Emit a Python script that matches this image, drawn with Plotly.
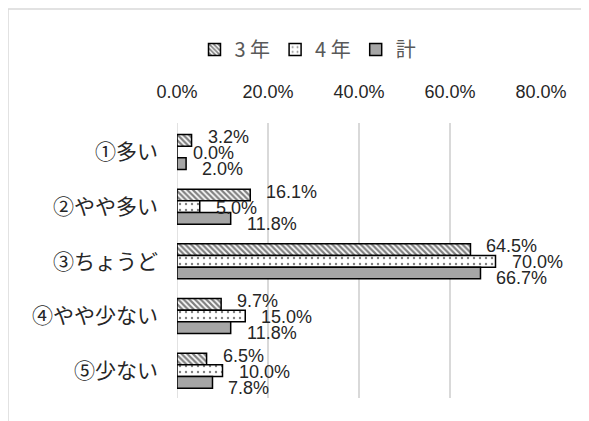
import plotly.graph_objects as go

categories = ["①多い", "②やや多い", "③ちょうど", "④やや少ない", "⑤少ない"]
series_names = ["3 年", "4 年", "計"]
values_3 = [0.032, 0.161, 0.645, 0.097, 0.065]
values_4 = [0.000, 0.050, 0.700, 0.150, 0.100]
values_t = [0.020, 0.118, 0.667, 0.118, 0.078]
x_ticks = [0, 0.2, 0.4, 0.6, 0.8]
x_tick_labels = ["0.0%", "20.0%", "40.0%", "60.0%", "80.0%"]

# the page body has an 8px margin, so the figure is 8px smaller
W, H = 581, 413
ML, MR, MT, MB = 169, 48, 115, 23
PW, PH = W - ML - MR, H - MT - MB

num_font = "Liberation Sans"
jp_font = "Noto Sans CJK JP"
txt_col = "#262626"

styles = [
    dict(color="white", line=dict(color="black", width=1.5),
         pattern=dict(shape="\\", fgcolor="black", bgcolor="white", size=4, solidity=0.55)),
    dict(color="white", line=dict(color="black", width=1.5),
         pattern=dict(shape=".", fgcolor="black", bgcolor="white", size=6, solidity=0.12)),
    dict(color="#A6A6A6", line=dict(color="black", width=1.5)),
]

fig = go.Figure()
all_vals = [values_3, values_4, values_t]
for name, vals, st in zip(series_names, all_vals, styles):
    fig.add_trace(go.Bar(
        name=name, y=categories, x=vals, orientation="h",
        marker=st, showlegend=True,
    ))

annotations = []
for i, vals in enumerate(all_vals):
    for c, v in zip(categories, vals):
        annotations.append(dict(
            x=v, y=c, xref="x", yref="y", text=f"{v*100:.1f}%",
            showarrow=False, xanchor="left", yanchor="middle",
            xshift=14, yshift=(1 - i) * 16 - 1,
            font=dict(family=num_font, size=18, color=txt_col),
        ))

fig.update_layout(
    width=W, height=H,
    margin=dict(l=ML, r=MR, t=MT, b=MB),
    paper_bgcolor="white", plot_bgcolor="white",
    barmode="group", bargap=0.36, bargroupgap=0,
    annotations=annotations,
    legend=dict(orientation="h", x=(308 - 8) / W, xref="container", xanchor="center",
                y=(H - 22) / H, yref="container", yanchor="top",
                font=dict(family=jp_font, size=20, color="#595959"),
                itemwidth=30, traceorder="normal"),
    shapes=[dict(type="rect", xref="paper", yref="paper",
                 x0=-ML / PW, x1=(W + 20 - ML) / PW,
                 y0=-(MB + 20) / PH,
                 y1=(H - 1 - MB) / PH,
                 line=dict(color="#D9D9D9", width=1.5), fillcolor="rgba(0,0,0,0)", layer="below")],
)
fig.update_xaxes(
    range=[0, 0.8], side="top", tickvals=x_ticks, ticktext=x_tick_labels,
    showgrid=True, gridcolor="#D9D9D9", gridwidth=1.5, zeroline=False,
    showline=False, ticks="", ticklabelstandoff=20, automargin=False,
    tickfont=dict(family=num_font, size=18, color=txt_col),
)
fig.update_yaxes(
    autorange="reversed", showgrid=False, zeroline=False, showline=False,
    ticks="", ticklabelstandoff=18, automargin=False,
    tickfont=dict(family=jp_font, size=21, color=txt_col),
)
fig.add_vline(x=0, line=dict(color="#D9D9D9", width=1.5), layer="below")

fig.write_html("out.html")
